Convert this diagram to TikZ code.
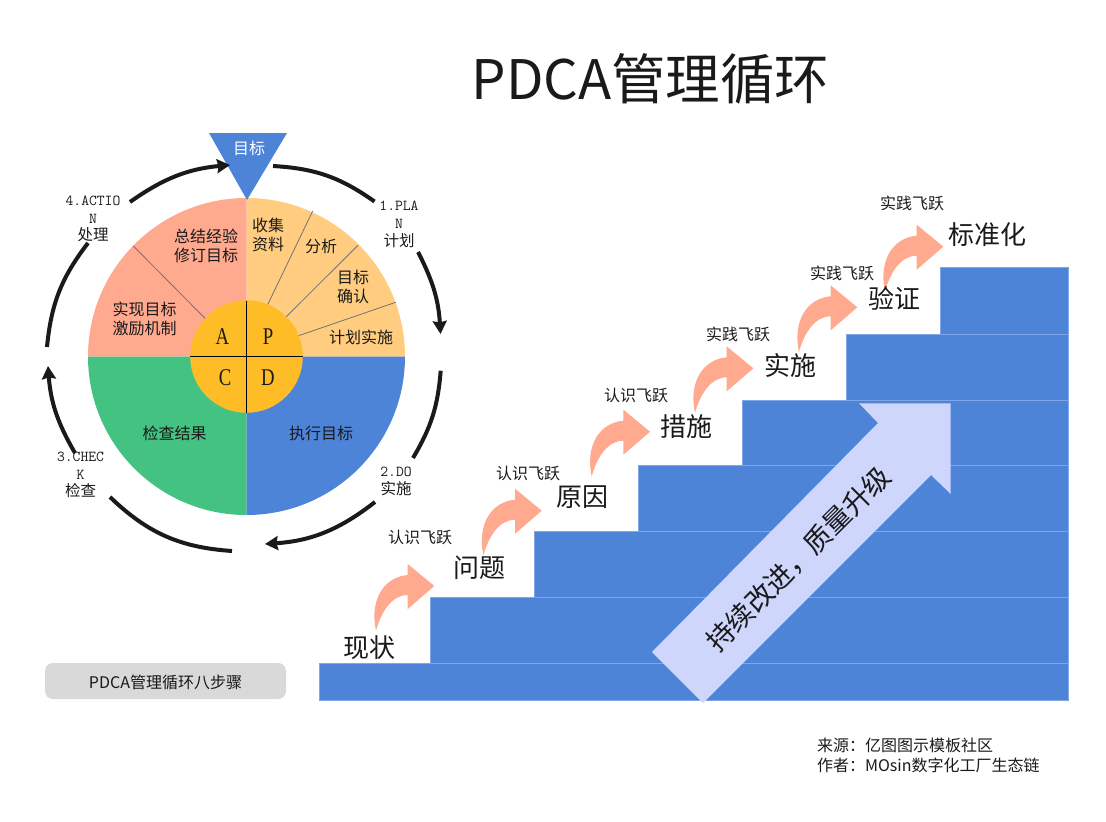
\documentclass[tikz,border=0pt]{standalone}
\usepackage{fontspec}
\setmainfont{Noto Sans CJK SC}
\newfontfamily\lat[FakeStretch=0.78]{Liberation Serif}
\usetikzlibrary{arrows.meta}
\definecolor{cblue}{HTML}{4E84D8}
\definecolor{cedge}{HTML}{7FA6E6}
\definecolor{csalmon}{HTML}{FFA98F}
\definecolor{cpeach}{HTML}{FFCC80}
\definecolor{cgreen}{HTML}{43C281}
\definecolor{cgold}{HTML}{FEBD27}
\definecolor{cpale}{HTML}{CFD6FC}
\definecolor{cink}{HTML}{1A1A1A}
\tikzset{
  txt/.style={inner sep=0pt,outer sep=0pt,align=center,text=cink,font=\fontsize{16}{19}\selectfont},
  steptxt/.style={txt,font=\fontsize{26}{29}\selectfont},
  jumptxt/.style={txt,font=\fontsize{16}{19}\selectfont},
  outer/.style={txt,font=\fontsize{15.5}{17.8}\selectfont},
  letter/.style={txt,font=\lat\fontsize{24}{26}\selectfont},
  ring/.style={line width=4pt,draw=cink},
  ringhead/.style={ring,-{Stealth[length=13pt,width=14pt,inset=1.5pt]}},
  stair/.style={fill=cblue,draw=cedge,line width=0.8pt},
  spoke/.style={draw=black!55,line width=0.8pt},
  jump/.pic={\fill[csalmon] (-58.3,-44.7) .. controls (-65,-13) and (-50,9) .. (-26.6,11) -- (-26.6,22) -- (0,0) -- (-26.6,-23) -- (-26.6,-9) .. controls (-42,-9) and (-53,-25) .. (-58.3,-44.7) -- cycle;}
}
\newcommand{\mono}[1]{{\ttfamily\fontsize{15.2}{17.8}\selectfont #1}}
\begin{document}
\begin{tikzpicture}[x=1pt,y=1pt]
\useasboundingbox (0,0) rectangle (1106,-822);
% title
\node[txt,font=\fontsize{54.5}{58}\selectfont,anchor=center] (title) at (650.5,-79) {PDCA管理循环};
% pie
\coordinate (c) at (246.5,-356.5);
\fill[cpeach] (c) -- ++(0:158.5) arc[start angle=0,end angle=90,radius=158.5] -- cycle;
\fill[csalmon] (c) -- ++(90:158.5) arc[start angle=90,end angle=180,radius=158.5] -- cycle;
\fill[cgreen] (c) -- ++(180:158.5) arc[start angle=180,end angle=270,radius=158.5] -- cycle;
\fill[cblue] (c) -- ++(270:158.5) arc[start angle=270,end angle=360,radius=158.5] -- cycle;
\draw[spoke] (266.7,-306.7) -- (312.7,-211);
\draw[spoke] (286,-317) -- (358,-245.3);
\draw[spoke] (297.7,-336) -- (395.7,-302.3);
\draw[spoke] (205.7,-319) -- (133.3,-246);
\fill[cgold] (c) circle[radius=56.3];
\draw[black,line width=0.9pt] (246.5,-301) -- (246.5,-413);
\draw[black,line width=0.9pt] (190,-356.5) -- (302.5,-356.5);
% target
\fill[cblue] (209,-133) -- (287,-133) -- (247,-200) -- cycle;
\node[txt,text=white] (goal) at (249,-148.5) {目标};
% ring arrows
\coordinate (a1) at (273,-166); \coordinate (a2) at (374.5,-201.5);
\coordinate (a3) at (418,-252); \coordinate (a4) at (440.5,-334);
\coordinate (b1) at (440.7,-370.7); \coordinate (b2) at (413,-458);
\coordinate (b3) at (375,-502); \coordinate (b4) at (265,-544);
\coordinate (e1) at (232,-551); \coordinate (e2) at (110,-497);
\coordinate (e3) at (75,-453); \coordinate (e4) at (48,-366);
\coordinate (f1) at (47,-347); \coordinate (f2) at (88,-243);
\coordinate (f3) at (130,-202); \coordinate (f4) at (230,-165);
\draw[ring] (a1) to[bend left=16] (a2);
\draw[ringhead] (a3) to[bend left=12] (a4);
\draw[ring] (b1) to[bend left=13] (b2);
\draw[ringhead] (b3) to[bend left=17] (b4);
\draw[ring] (e1) to[bend left=20] (e2);
\draw[ringhead] (e3) to[bend left=13] (e4);
\draw[ring] (f1) to[bend left=16] (f2);
\draw[ringhead] (f3) to[bend left=15] (f4);
% pie labels
\node[txt] (n1) at (206,-246) {总结经验\\修订目标};
\node[txt] (n2) at (268,-235) {收集\\资料};
\node[txt] (n3) at (321,-246) {分析};
\node[txt] (n4) at (353,-287) {目标\\确认};
\node[txt] (n5) at (361,-337) {计划实施};
\node[txt] (n6) at (144.5,-319) {实现目标\\激励机制};
\node[txt] (n7) at (174.5,-433) {检查结果};
\node[txt] (n8) at (321,-433) {执行目标};
\node[letter] (lA) at (222.5,-337) {A};
\node[letter] (lP) at (268,-337) {P};
\node[letter] (lC) at (225,-378) {C};
\node[letter] (lD) at (268,-378) {D};
% outer labels
\node[outer] (o1) at (399,-224.5) {\mono{1.PLA}\\\mono{N}\\计划};
\node[outer] (o2) at (396,-481.5) {\mono{2.DO}\\实施};
\node[outer] (o3) at (80.5,-475) {\mono{3.CHEC}\\\mono{K}\\检查};
\node[outer] (o4) at (93,-219) {\mono{4.ACTIO}\\\mono{N}\\处理};
% stairs
\draw[stair] (319.3,-663.6) rectangle (1068.3,-700.5);
\draw[stair] (430.5,-597.5) rectangle (1068.3,-663.6);
\draw[stair] (534.3,-531.5) rectangle (1068.3,-597.5);
\draw[stair] (638.3,-465.5) rectangle (1068.3,-531.5);
\draw[stair] (742.3,-400) rectangle (1068.3,-465.5);
\draw[stair] (846.7,-334.3) rectangle (1068.3,-400);
\draw[stair] (940.7,-267.3) rectangle (1068.3,-334.3);
% big arrow
\fill[cpale] (652,-652) -- (878,-423) -- (859,-403.3) -- (950.7,-403.3) -- (950.7,-494) -- (931,-475) -- (703,-703) -- cycle;
\node[txt,rotate=45,font=\fontsize{27.5}{30}\selectfont] (big) at (798.5,-559) {持续改进，质量升级};
% jump arrows
\pic at (434.3,-586) {jump};
\pic at (541.7,-510.7) {jump};
\pic at (650,-431.7) {jump};
\pic at (753.3,-368.3) {jump};
\pic at (857.3,-307.3) {jump};
\pic at (943.3,-246.7) {jump};
% step labels
\node[steptxt] (s1) at (369,-648) {现状};
\node[steptxt] (s2) at (479,-568) {问题};
\node[steptxt] (s3) at (582,-497) {原因};
\node[steptxt] (s4) at (686,-427) {措施};
\node[steptxt] (s5) at (790,-366) {实施};
\node[steptxt] (s6) at (894,-298) {验证};
\node[steptxt] (s7) at (987,-235) {标准化};
\node[jumptxt] (j1) at (420,-537) {认识飞跃};
\node[jumptxt] (j2) at (528,-473) {认识飞跃};
\node[jumptxt] (j3) at (636,-395) {认识飞跃};
\node[jumptxt] (j4) at (738,-334) {实践飞跃};
\node[jumptxt] (j5) at (842,-273) {实践飞跃};
\node[jumptxt] (j6) at (912,-203) {实践飞跃};
% legend
\fill[black!15,rounded corners=8pt] (45,-663) rectangle (286,-699);
\node[txt] (legend) at (165.5,-682) {PDCA管理循环八步骤};
% footer
\node[txt,anchor=west] (src) at (817,-745) {来源：亿图图示模板社区};
\node[txt,anchor=west] (auth) at (817,-765) {作者：MOsin数字化工厂生态链};
\end{tikzpicture}
\end{document}
